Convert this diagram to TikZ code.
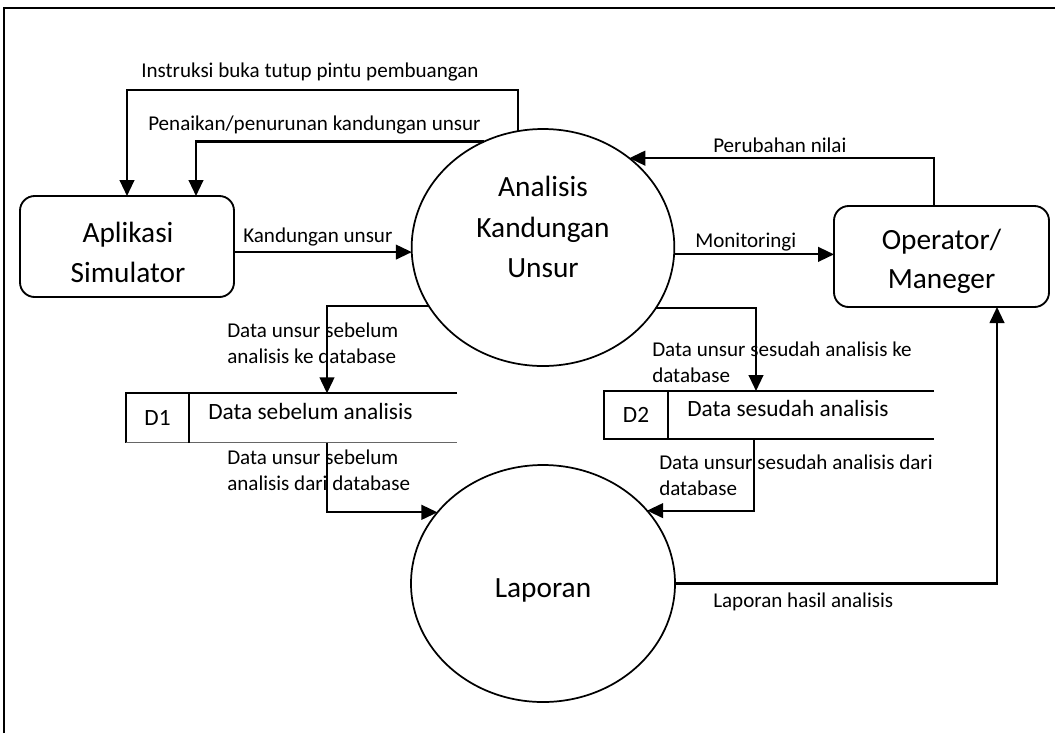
\documentclass[tikz,border=0pt]{standalone}
\usepackage{fontspec}
\setmainfont{Carlito}
\usetikzlibrary{arrows.meta,shapes.geometric,calc}

\begin{document}
\begin{tikzpicture}[
  x=0.75pt, y=-0.75pt,
  flow/.style={line width=1.6pt, -{Triangle[length=12pt,width=11pt]}},
  entity/.style={draw, line width=1.4pt, rounded corners=11pt, inner sep=0pt, outer sep=0pt,
    minimum width=160.5pt, minimum height=75.75pt},
  process/.style={draw, ellipse, line width=1.3pt, inner sep=0pt, outer sep=0pt,
    minimum width=197pt, minimum height=177.75pt},
  bigtext/.style={align=center, inner sep=0pt, font=\fontsize{22}{29.5}\selectfont},
  proctext/.style={bigtext, font=\fontsize{22}{30.5}\selectfont},
  lbl/.style={anchor=west, align=left, inner sep=0pt, font=\fontsize{15.8}{19.5}\selectfont},
  storebox/.style={inner sep=0pt, outer sep=0pt, minimum height=37pt},
  storetxt/.style={inner sep=0pt, font=\fontsize{17.5}{21}\selectfont},
]
\useasboundingbox (0,0) rectangle (1055,733);

% page frame
\draw[line width=1.5pt] (4,733) -- (4,7.5) -- (1055,7.5);

% external entities
\node[entity] (aplikasi) at (127,246.5) {};
\node[bigtext] (aplikasiTxt) at (128,252.5) {Aplikasi\\Simulator};
\node[entity, minimum width=161.25pt] (operator) at (941.5,256.5) {};
\node[bigtext] (operatorTxt) at (941.5,261.5) {Operator/\\Maneger};

% processes
\node[process] (analisis) at (543,247.5) {};
\node[proctext] (analisisTxt) at (543,227) {Analisis\\Kandungan\\Unsur};
\node[process, minimum width=198pt] (laporan) at (543,583.5) {};
\node[proctext] (laporanTxt) at (543,590) {Laporan};

% data stores
\node[storebox, minimum width=248.25pt] (d1) at (291.5,418) {};
\draw[line width=1.4pt] (d1.north east) -- (d1.north west) -- (d1.south west);
\draw[line width=1pt, black!60] (d1.south west) -- (d1.south east);
\draw[line width=1.4pt] ($(d1.north west)+(63,0)$) -- ($(d1.south west)+(63,0)$);
\node[storetxt] (d1id) at ($(d1.west)+(31.5,0)$) {D1};
\node[storetxt, anchor=west] (d1name) at (208,411) {Data sebelum analisis};

\node[storebox, minimum width=247.5pt, minimum height=36pt] (d2) at (769,415) {};
\draw[line width=1.4pt] (d2.north east) -- (d2.north west) -- (d2.south west) -- (d2.south east);
\draw[line width=1.4pt] ($(d2.north west)+(64,0)$) -- ($(d2.south west)+(64,0)$);
\node[storetxt] (d2id) at ($(d2.west)+(32,0)$) {D2};
\node[storetxt, anchor=west] (d2name) at (687,408) {Data sesudah analisis};

% data flows
\draw[flow] (analisis.102.6) -- ++(0,-41) -| (aplikasi.north);
\draw[flow] (analisis.119.5) -| ($(aplikasi.north)+(69,0)$);
\draw[flow] (aplikasi.east |- analisis.182.4) -- (analisis.182.4);
\draw[flow] (analisis.357.9) -- (analisis.357.9 -| operator.west);
\draw[flow] ($(operator.north)+(-7.5,0)$) |- (analisis.46.9);
\draw[flow] (analisis.207.7) -| ($(d1.north west)+(201,0)$);
\draw[flow] (analisis.332.3) -| ($(d2.north west)+(152,0)$);
\draw[flow] ($(d1.south west)+(201,0)$) |- (laporan.146.4);
\draw[flow] ($(d2.south west)+(150,0)$) |- (laporan.35.4);
\draw[flow] (laporan.east) -| ($(operator.south)+(55.5,0)$);

% flow labels
\node[lbl] (lInstr) at (141,72) {Instruksi buka tutup pintu pembuangan};
\node[lbl] (lPenaikan) at (148,125) {Penaikan/penurunan kandungan unsur};
\node[lbl] (lKand) at (243,237) {Kandungan unsur};
\node[lbl] (lPerub) at (713,145) {Perubahan nilai};
\node[lbl] (lMon) at (695,242) {Monitoringi};
\node[lbl] (lD1in) at (227,343) {Data unsur sebelum\\analisis ke database};
\node[lbl] (lD1out) at (227,470) {Data unsur sebelum\\analisis dari database};
\node[lbl] (lD2in) at (652,362) {Data unsur sesudah analisis ke\\database};
\node[lbl] (lD2out) at (659,475) {Data unsur sesudah analisis dari\\database};
\node[lbl] (lLap) at (713,602) {Laporan hasil analisis};
\end{tikzpicture}
\end{document}
